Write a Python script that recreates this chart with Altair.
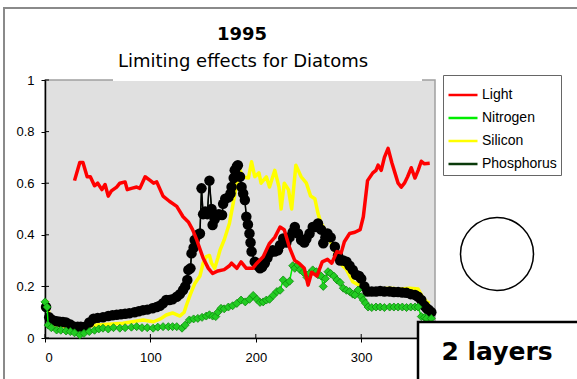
import altair as alt
import pandas as pd

# Day of year -> limiting factor, one list per nutrient / resource
light = [
    (28, 0.61), (33, 0.68), (36, 0.68), (40, 0.625), (43, 0.625), (47, 0.59), (50, 0.60),
    (54, 0.575), (57, 0.595), (60, 0.55), (63, 0.57), (68, 0.585), (71, 0.60), (76, 0.605),
    (78, 0.575), (82, 0.58), (87, 0.585), (90, 0.58), (95, 0.625), (100, 0.61), (103, 0.60),
    (106, 0.605), (112, 0.55), (118, 0.53), (125, 0.51), (131, 0.47), (136, 0.45), (140, 0.42),
    (144, 0.38), (150, 0.31), (155, 0.27), (159, 0.25), (164, 0.26), (170, 0.265), (175, 0.28),
    (177, 0.29), (182, 0.27), (186, 0.295), (191, 0.27), (197, 0.27), (201, 0.29), (207, 0.315),
    (213, 0.367), (218, 0.39), (223, 0.43), (227, 0.42), (232, 0.35), (237, 0.30), (241, 0.29),
    (246, 0.27), (249.6, 0.205), (253, 0.255), (258, 0.24), (263, 0.295), (268, 0.305),
    (272, 0.29), (277, 0.335), (281, 0.33), (284, 0.373), (289, 0.405), (294, 0.41), (299, 0.42),
    (302, 0.47), (306, 0.61), (311, 0.64), (314, 0.65), (316, 0.67), (319, 0.65), (322, 0.70),
    (325.5, 0.735), (329, 0.68), (332, 0.64), (335, 0.60), (338, 0.585), (341, 0.60), (344, 0.625),
    (347.5, 0.66), (351, 0.62), (354, 0.65), (357, 0.685), (360, 0.675), (365, 0.677),
]

nitrogen = [
    (0, 0.14), (2, 0.12), (3, 0.05), (6, 0.04), (11, 0.031), (15, 0.03), (20, 0.027), (24, 0.025),
    (28, 0.02), (33, 0.012), (37, 0.018), (42, 0.025), (47, 0.03), (51, 0.035), (55, 0.038),
    (60, 0.035), (65, 0.04), (71, 0.038), (76, 0.04), (82, 0.042), (87, 0.044), (92, 0.04),
    (97, 0.04), (102.6, 0.038), (107, 0.042), (112, 0.044), (117, 0.044), (121, 0.044),
    (125, 0.044), (130, 0.038), (133, 0.05), (137, 0.07), (141, 0.074), (145, 0.076), (149, 0.08),
    (153, 0.085), (156, 0.09), (159, 0.085), (162, 0.083), (164, 0.1), (167, 0.115), (170, 0.113),
    (174, 0.12), (178, 0.125), (182, 0.134), (186, 0.147), (190, 0.14), (194, 0.15), (197.5, 0.165),
    (201, 0.15), (204, 0.138), (207, 0.14), (210, 0.147), (213, 0.15), (216.5, 0.165), (220, 0.18),
    (223, 0.185), (226, 0.225), (229, 0.21), (232, 0.22), (235, 0.28), (237, 0.27), (240, 0.283),
    (242, 0.265), (245, 0.255), (248.5, 0.235), (251, 0.25), (254, 0.264), (257.5, 0.257),
    (259, 0.245), (262, 0.24), (264, 0.2), (266, 0.23), (268.5, 0.257), (271, 0.25), (274, 0.24),
    (277, 0.225), (280, 0.215), (283, 0.193), (286, 0.185), (289, 0.18), (292, 0.17), (294, 0.167),
    (297, 0.186), (300, 0.16), (302, 0.147), (304, 0.135), (306.5, 0.12), (310, 0.118), (314, 0.12),
    (318, 0.12), (322, 0.118), (327, 0.12), (331, 0.12), (335, 0.12), (339, 0.12), (343, 0.118),
    (347, 0.12), (351, 0.12), (354, 0.12), (357, 0.083), (360, 0.08), (362, 0.076), (366.5, 0.076),
]

silicon = [
    (0, 0.145), (2, 0.14), (5, 0.06), (10, 0.05), (20, 0.045), (30, 0.04), (40, 0.045), (49, 0.05),
    (60, 0.053), (74, 0.057), (83, 0.063), (93, 0.07), (103, 0.063), (110, 0.075), (115, 0.089),
    (121, 0.097), (128, 0.085), (132, 0.1), (134, 0.125), (138, 0.17), (142, 0.21), (147, 0.24),
    (150, 0.29), (153, 0.315), (156, 0.32), (158, 0.29), (161, 0.27), (164, 0.31), (166, 0.34),
    (170, 0.38), (175, 0.445), (178, 0.51), (182, 0.6), (185, 0.65), (188, 0.625), (193, 0.62),
    (196, 0.683), (199, 0.625), (203, 0.64), (205, 0.60), (210, 0.625), (213, 0.585), (218, 0.65),
    (222, 0.585), (224, 0.50), (227, 0.60), (231, 0.575), (234, 0.50), (238, 0.67), (243, 0.625),
    (248, 0.60), (252, 0.55), (256, 0.54), (259, 0.483), (262, 0.444), (267, 0.41), (273, 0.354),
    (280, 0.29), (286, 0.265), (292, 0.218), (300, 0.2), (308, 0.19), (317, 0.19), (327, 0.193),
    (337, 0.19), (346, 0.193), (354, 0.19), (358, 0.16), (362, 0.14), (365, 0.134),
]

phosphorus = [
    (1, 0.12), (4, 0.08), (7, 0.07), (11, 0.065), (14, 0.063), (17, 0.062), (20, 0.06), (24, 0.052),
    (27, 0.045), (31, 0.044), (34, 0.044), (38, 0.044), (42, 0.06), (46, 0.075), (50, 0.078),
    (55, 0.08), (60, 0.085), (64, 0.088), (68, 0.09), (72, 0.092), (76, 0.094), (80, 0.096),
    (85, 0.1), (89, 0.104), (93, 0.108), (97, 0.11), (102, 0.115), (106, 0.12), (109, 0.125),
    (112, 0.135), (115, 0.147), (118, 0.147), (121, 0.15), (125, 0.16), (128, 0.17), (131, 0.186),
    (133, 0.2), (135, 0.225), (136, 0.264), (138, 0.27), (139, 0.328), (141, 0.35), (142, 0.38),
    (145, 0.4), (147, 0.405), (148.5, 0.58), (150, 0.48), (152, 0.49), (154, 0.48), (156, 0.61),
    (158, 0.5), (159, 0.438), (161, 0.46), (163, 0.477), (165, 0.48), (168, 0.477), (169, 0.52),
    (171, 0.54), (174, 0.545), (176, 0.56), (177, 0.585), (179, 0.62), (180, 0.65), (182, 0.665),
    (183, 0.67), (185, 0.625), (186.5, 0.585), (188, 0.56), (189.6, 0.535), (191, 0.47),
    (192.5, 0.44), (194, 0.405), (195, 0.37), (196, 0.335), (199, 0.296), (202, 0.28), (204, 0.27),
    (206, 0.275), (208.5, 0.29), (211, 0.31), (213, 0.328), (216, 0.34), (218, 0.335), (221, 0.34),
    (223, 0.36), (226, 0.386), (229, 0.37), (232, 0.39), (235, 0.41), (237, 0.43), (240, 0.405),
    (243, 0.38), (246, 0.37), (248, 0.385), (251, 0.405), (254, 0.43), (256, 0.43), (259, 0.444),
    (262, 0.42), (264, 0.367), (266, 0.39), (268, 0.405), (271, 0.39), (275, 0.354), (278, 0.32),
    (280, 0.3), (283, 0.3), (286, 0.296), (289, 0.28), (292, 0.264), (295, 0.245), (298, 0.24),
    (300, 0.23), (303, 0.2), (306, 0.18), (310, 0.18), (314, 0.18), (318, 0.182), (322, 0.18),
    (327, 0.18), (331, 0.178), (335, 0.178), (339, 0.176), (343, 0.175), (347, 0.17), (351, 0.167),
    (354, 0.16), (357, 0.147), (360, 0.125), (362, 0.115), (364, 0.11), (366.5, 0.1),
]

series_names = ["Light", "Nitrogen", "Silicon", "Phosphorus"]
series_colors = ["#ff0000", "#00ee00", "#ffff00", "#0a3a0a"]
x_ticks = [0, 100, 200, 300]
y_ticks = [0, 0.2, 0.4, 0.6, 0.8, 1]
title_lines = ["1995", "Limiting effects for Diatoms"]

W, H = 390, 258

rows = []
for name, pts in zip(series_names, [light, nitrogen, silicon, phosphorus]):
    for d, v in pts:
        rows.append({"day": d, "value": v, "series": name})
df = pd.DataFrame(rows)

x_enc = alt.X("day:Q", scale=alt.Scale(domain=[0, 370], nice=False, zero=False),
              axis=alt.Axis(values=x_ticks, title=None, grid=False, labelPadding=9))
y_enc = alt.Y("value:Q", scale=alt.Scale(domain=[0, 1], nice=False),
              axis=alt.Axis(values=y_ticks, title=None, grid=False, labelPadding=7,
                            labelExpr="'' + datum.value"))
color_enc = alt.Color(
    "series:N",
    scale=alt.Scale(domain=series_names, range=series_colors),
    legend=alt.Legend(
        title=None, orient="none", legendX=398, legendY=-5, symbolType="stroke",
        symbolSize=841, symbolStrokeWidth=2.5, labelFont="Liberation Sans", labelFontSize=14,
        labelColor="black", labelOffset=3, rowPadding=0, padding=4,
        strokeColor="#666666", fillColor="white", labelLimit=200,
    ),
)

base = alt.Chart(df)


def series_line(name, width):
    return base.transform_filter(alt.datum.series == name).mark_line(
        strokeWidth=width, strokeJoin="round"
    ).encode(x=x_enc, y=y_enc, color=color_enc, order="day:Q")


# Outer frame around the whole figure
one = alt.Data(values=[{"k": 0}])
frame = alt.Chart(one).mark_rect(fillOpacity=0, stroke="#8a8a8a", strokeWidth=2).encode(
    x=alt.value(-41), y=alt.value(-72), x2=alt.value(W + 200), y2=alt.value(H + 100)
)

yellow = series_line("Silicon", 3.5)
p_line = series_line("Phosphorus", 1.2)
p_line_black = base.transform_filter(alt.datum.series == "Phosphorus").mark_line(
    color="black", strokeWidth=1.5
).encode(x=x_enc, y=y_enc, order="day:Q")
p_pts = base.transform_filter(alt.datum.series == "Phosphorus").mark_point(
    shape="circle", filled=True, color="black", size=110, opacity=1
).encode(x=x_enc, y=y_enc)
n_line = series_line("Nitrogen", 1.5)
n_pts = base.transform_filter(alt.datum.series == "Nitrogen").mark_point(
    shape="diamond", filled=True, fill="#22cc22", stroke="#0d8a0d", strokeWidth=0.8,
    size=64, opacity=1
).encode(x=x_enc, y=y_enc)
red = series_line("Light", 3.5)

# Small inward tick marks so ticks cross the axis lines
xt = alt.Chart(alt.Data(values=[{"t": t} for t in x_ticks])).mark_rule(
    color="black", strokeWidth=1
).encode(x=alt.X("t:Q", scale=alt.Scale(domain=[0, 370], nice=False)),
         y=alt.value(H - 4), y2=alt.value(H))
yt = alt.Chart(alt.Data(values=[{"t": t} for t in y_ticks])).mark_rule(
    color="black", strokeWidth=1
).encode(y=alt.Y("t:Q", scale=alt.Scale(domain=[0, 1], nice=False)),
         x=alt.value(0), x2=alt.value(4))

# Title band hides part of the plot's top edge
title_band = alt.Chart(one).mark_rule(color="white", strokeWidth=2).encode(
    x=alt.value(68), x2=alt.value(377), y=alt.value(0)
)
title_main = alt.Chart(alt.Data(values=[{"t": title_lines[0]}])).mark_text(
    font="DejaVu Sans", fontSize=18, fontWeight="bold", align="center",
    baseline="alphabetic", color="black"
).encode(x=alt.value(197), y=alt.value(-40), text="t:N")
title_sub = alt.Chart(alt.Data(values=[{"t": title_lines[1]}])).mark_text(
    font="DejaVu Sans", fontSize=18, align="center", baseline="alphabetic", color="black"
).encode(x=alt.value(198), y=alt.value(-13), text="t:N")

ring = alt.Chart(one).mark_point(
    shape="circle", filled=False, stroke="black", strokeWidth=1.5, size=5329, opacity=1
).encode(x=alt.value(452), y=alt.value(174))

box = alt.Chart(one).mark_rect(fill="white", stroke="black", strokeWidth=2.5).encode(
    x=alt.value(373), y=alt.value(242), x2=alt.value(W + 200), y2=alt.value(H + 100)
)
box_text = alt.Chart(alt.Data(values=[{"label": "2 layers"}])).mark_text(
    font="DejaVu Sans", fontSize=25, fontWeight="bold", align="center", baseline="alphabetic",
    color="black"
).encode(x=alt.value(452), y=alt.value(280), text="label:N")

chart = alt.layer(
    frame, yellow, p_line, p_line_black, p_pts, n_line, n_pts, red, xt, yt, title_band,
    title_main, title_sub, ring, box, box_text
).resolve_scale(x="shared", y="shared").properties(
    width=W, height=H,
    autosize=alt.AutoSizeParams(type="none"),
    padding={"left": 45, "top": 80, "right": 142, "bottom": 41},
    background="white",
).configure_view(
    fill="#e0e0e0", stroke="#a0a0a0", strokeWidth=1.5
).configure_axis(
    domainColor="black", domainWidth=1.5, tickColor="black", tickSize=4,
    labelFont="Liberation Sans", labelFontSize=13, labelColor="black",
)

chart.save("out.html", embed_options={"renderer": "svg", "actions": False})
